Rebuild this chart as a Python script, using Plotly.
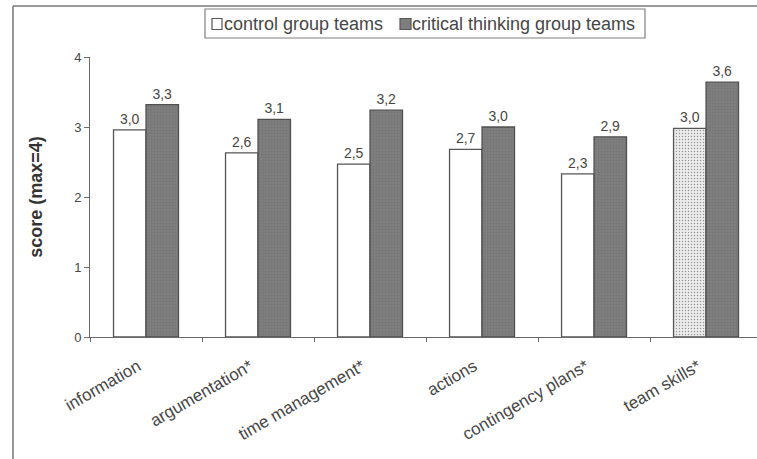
import plotly.graph_objects as go

categories = ["information", "argumentation*", "time management*", "actions",
              "contingency plans*", "team skills*"]
control_scores = [2.96, 2.63, 2.47, 2.68, 2.33, 2.98]
critical_scores = [3.32, 3.11, 3.24, 3.00, 2.86, 3.64]
y_ticks = [0, 1, 2, 3, 4]
series_names = ["control group teams", "critical thinking group teams"]

FONT = "Liberation Sans, Arial, sans-serif"
text_col = "#464646"
line_col = "#6a6a6a"
crit_col = "#7e7e7e"

# plot area in pixels
W, H = 757, 459
L, R, T, B = 90, 0, 57, 122
PW, PH = W - L - R, H - T - B


def px(x):
    return (x - L) / PW


def py(y):
    return (H - B - y) / PH


control_fill = ["#ffffff"] * 5 + ["#ececec"]
control_pattern = [""] * 5 + ["."]

fig = go.Figure()
fig.add_trace(go.Bar(
    name=series_names[0], x=categories, y=control_scores,
    marker=dict(color=control_fill, line=dict(color="#555555", width=1.3),
                pattern=dict(shape=control_pattern, fgcolor="#d6d6d6",
                             size=3, solidity=0.2)),
    texttemplate="%{y:.1f}", textposition="outside",
    textfont=dict(size=14, color=text_col, family=FONT),
    cliponaxis=False, showlegend=False,
))
fig.add_trace(go.Bar(
    name=series_names[1], x=categories, y=critical_scores,
    marker=dict(color=crit_col, line=dict(color="#505050", width=1.3),
                pattern=dict(shape=".", fgcolor="#6c6c6c", size=3, solidity=0.3)),
    texttemplate="%{y:.1f}", textposition="outside",
    textfont=dict(size=14, color=text_col, family=FONT),
    cliponaxis=False, showlegend=False,
))

# outer frame (left and top edges)
frame = dict(color="#777777", width=1.5)
fig.add_shape(type="line", xref="paper", yref="paper",
              x0=px(13), x1=px(13), y0=py(6), y1=py(470), line=frame)
fig.add_shape(type="line", xref="paper", yref="paper",
              x0=px(13), x1=px(770), y0=py(6), y1=py(6), line=frame)

# legend box with swatches and labels
fig.add_shape(type="rect", xref="paper", yref="paper",
              x0=px(205), x1=px(645), y0=py(9), y1=py(38),
              line=dict(color="#808080", width=1.2), fillcolor="white")
swatches = [(212, 222, "#ffffff"), (400, 411, crit_col)]
text_x = [224, 412]
for (x0, x1, col), tx, name in zip(swatches, text_x, series_names):
    fig.add_shape(type="rect", xref="paper", yref="paper",
                  x0=px(x0), x1=px(x1), y0=py(18.5), y1=py(29.5),
                  line=dict(color="#555555", width=1.2), fillcolor=col)
    fig.add_annotation(xref="paper", yref="paper", x=px(tx - 2), y=py(24),
                       xanchor="left", yanchor="middle", showarrow=False,
                       text=name, font=dict(size=18, color=text_col, family=FONT))

fig.update_layout(
    width=W, height=H,
    margin=dict(l=L, r=R, t=T, b=B),
    paper_bgcolor="white", plot_bgcolor="white",
    separators=",.",
    barmode="group", bargap=0.42, bargroupgap=0,
    font=dict(family=FONT, color=text_col, size=13),
    showlegend=False,
    xaxis=dict(range=[-0.5, 5.455], showgrid=False, showline=True,
               linecolor=line_col, linewidth=1, ticks="outside",
               tickson="boundaries", ticklen=4, tickcolor=line_col,
               tickangle=-30, tickfont=dict(size=17, color=text_col),
               ticklabelstandoff=12, ticklabelshift=-8),
    yaxis=dict(range=[0, 4], tickvals=y_ticks, showgrid=False, showline=True,
               linecolor=line_col, linewidth=1, ticks="outside", ticklen=5,
               tickcolor=line_col, tickfont=dict(size=13, color=text_col),
               title=dict(text="<b>score (max=4)</b>", standoff=26,
                          font=dict(size=18, color="#333333")),
               zeroline=False),
)

fig.write_html("out.html")
